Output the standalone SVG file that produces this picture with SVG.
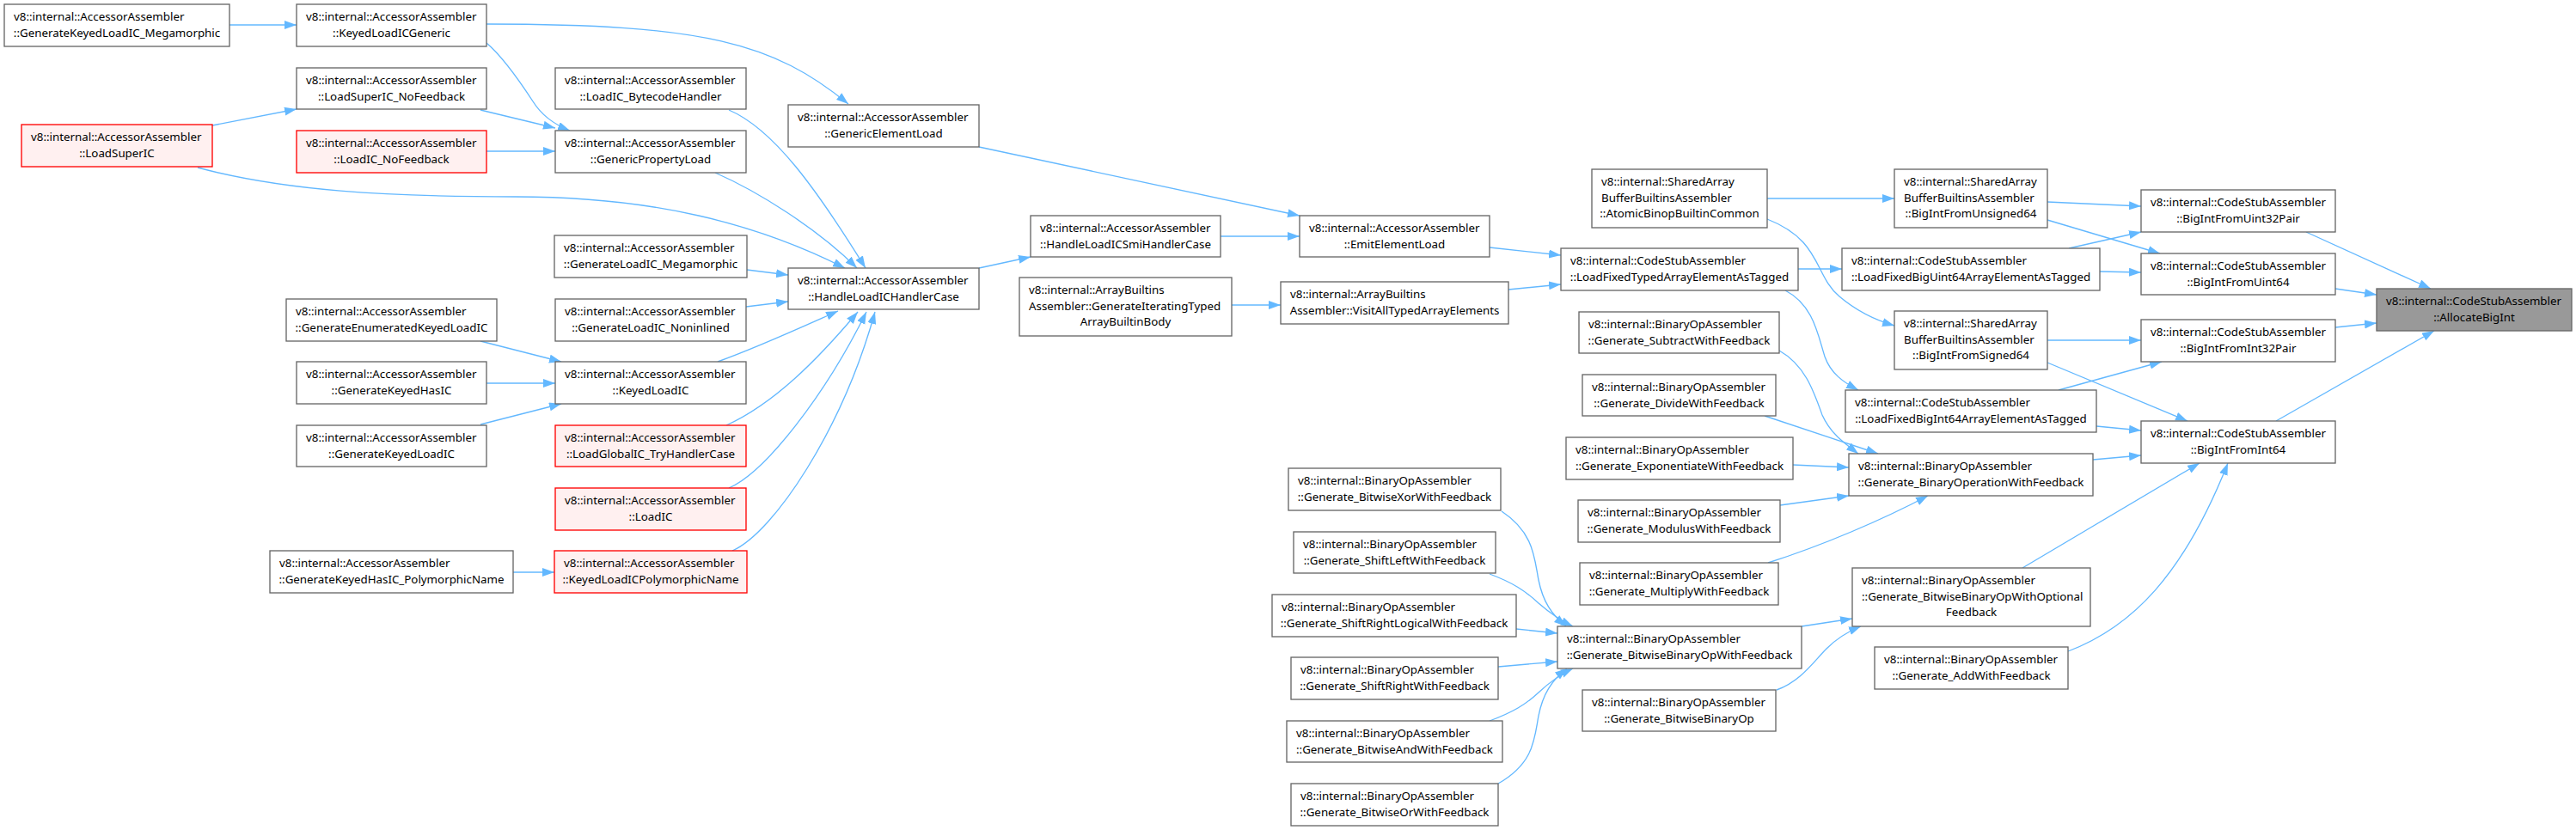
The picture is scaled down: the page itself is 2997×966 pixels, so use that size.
<svg xmlns="http://www.w3.org/2000/svg" width="2997" height="966" viewBox="0 0 2997 966">
<style>
.n rect{fill:#fff;stroke:#666;stroke-width:1.33}
.r rect{fill:#fff0f0;stroke:#ff0000;stroke-width:1.33}
.g rect{fill:#999;stroke:#666;stroke-width:1.33}
text{font-family:"Noto Sans","Open Sans",sans-serif;font-size:13.33px;fill:#000}
.m{text-anchor:middle}
#edges path{fill:none;stroke:#63b8ff;stroke-width:1.33;marker-end:url(#a)}
</style>
<defs>
<marker id="a" markerUnits="userSpaceOnUse" markerWidth="16" markerHeight="12" refX="14" refY="5" orient="auto"><path d="M0,0 L14,5 L0,10 z" fill="#63b8ff" stroke="none"/></marker>
</defs>
<rect width="2997" height="966" fill="#fff"/>
<g id="edges">
<path d="M267,29 L345,29"/>
<path d="M566,28 C 820,28 900,50 987,121"/>
<path d="M566,50 C 585,66 605,95 620,118 C 630,134 645,145 663,152"/>
<path d="M559,128 L646,149"/>
<path d="M566,176 L646,176"/>
<path d="M247,146 L345,127"/>
<path d="M230,195 C 330,222 450,229 600,229 C 760,229 880,260 983,312"/>
<path d="M832,201 C 880,222 950,265 997,312"/>
<path d="M848,128 C 900,150 950,220 1007,312"/>
<path d="M869,314 L917,320"/>
<path d="M868,357 L917,351"/>
<path d="M835,421 C 880,405 930,382 975,362"/>
<path d="M845,495 C 900,470 950,420 998,363"/>
<path d="M848,568 C 890,550 960,460 1008,363"/>
<path d="M852,641 C 900,620 980,500 1018,363"/>
<path d="M559,397 L653,421"/>
<path d="M566,446 L646,446"/>
<path d="M559,494 L653,470"/>
<path d="M597,666 L645,666"/>
<path d="M1139,171 L1512,251"/>
<path d="M1139,312 L1199,299"/>
<path d="M1420,275 L1512,275"/>
<path d="M1433,355 L1490,355"/>
<path d="M1733,288 L1816,297"/>
<path d="M1755,337 L1816,331"/>
<path d="M2056,231 L2204,231"/>
<path d="M2056,255 C 2120,280 2110,320 2140,345 C 2160,362 2180,372 2204,379"/>
<path d="M2092,313 L2143,313"/>
<path d="M2077,338 C 2110,355 2115,390 2123,415 C 2130,435 2145,445 2162,454"/>
<path d="M2070,408 C 2100,425 2110,455 2120,483 C 2130,505 2145,515 2162,528"/>
<path d="M2053,484 L2185,528"/>
<path d="M2086,541 L2151,544"/>
<path d="M2071,588 L2151,577"/>
<path d="M2057,655 C 2120,635 2190,605 2243,577"/>
<path d="M2096,729 L2155,720"/>
<path d="M2067,803 C 2095,793 2110,770 2125,755 C 2138,742 2150,735 2165,729"/>
<path d="M1747,595 C 1785,620 1785,650 1790,675 C 1795,700 1805,715 1822,729"/>
<path d="M1733,668 C 1760,678 1775,688 1790,702 C 1805,715 1815,722 1830,729"/>
<path d="M1764,732 L1812,737"/>
<path d="M1743,776 L1812,770"/>
<path d="M1733,839 C 1760,829 1775,820 1790,806 C 1805,792 1815,785 1830,778"/>
<path d="M1743,912 C 1785,888 1785,860 1790,833 C 1795,808 1805,792 1823,778"/>
<path d="M2382,235 L2491,240"/>
<path d="M2382,256 L2513,295"/>
<path d="M2407,289 L2491,270"/>
<path d="M2443,316 L2491,317"/>
<path d="M2382,396 L2491,396"/>
<path d="M2382,422 L2545,490"/>
<path d="M2395,454 L2515,421"/>
<path d="M2439,496 L2491,501"/>
<path d="M2435,535 L2491,530"/>
<path d="M2353,661 L2559,539"/>
<path d="M2406,758 C 2480,730 2540,670 2592,539"/>
<path d="M2683,270 L2828,336"/>
<path d="M2717,336 L2765,343"/>
<path d="M2717,381 L2765,376"/>
<path d="M2648,490 L2832,385"/>
</g>
<g id="n1" class="n"><rect x="5" y="5" width="262" height="49"/><text x="16" y="24">v8::internal::AccessorAssembler</text><text class="m" x="136" y="42.5">::GenerateKeyedLoadIC_Megamorphic</text></g>
<g id="n2" class="n"><rect x="345" y="5" width="221" height="49"/><text x="356" y="24">v8::internal::AccessorAssembler</text><text class="m" x="455.5" y="42.5">::KeyedLoadICGeneric</text></g>
<g id="n3" class="n"><rect x="345" y="79" width="221" height="48"/><text x="356" y="98">v8::internal::AccessorAssembler</text><text class="m" x="455.5" y="116.5">::LoadSuperIC_NoFeedback</text></g>
<g id="n4" class="r"><rect x="345" y="152" width="221" height="49"/><text x="356" y="171">v8::internal::AccessorAssembler</text><text class="m" x="455.5" y="189.5">::LoadIC_NoFeedback</text></g>
<g id="n5" class="r"><rect x="25" y="145" width="222" height="49"/><text x="36" y="164">v8::internal::AccessorAssembler</text><text class="m" x="136" y="182.5">::LoadSuperIC</text></g>
<g id="n6" class="n"><rect x="333" y="348" width="245" height="49"/><text x="344" y="367">v8::internal::AccessorAssembler</text><text class="m" x="455.5" y="385.5">::GenerateEnumeratedKeyedLoadIC</text></g>
<g id="n7" class="n"><rect x="345" y="421" width="221" height="49"/><text x="356" y="440">v8::internal::AccessorAssembler</text><text class="m" x="455.5" y="458.5">::GenerateKeyedHasIC</text></g>
<g id="n8" class="n"><rect x="345" y="495" width="221" height="48"/><text x="356" y="514">v8::internal::AccessorAssembler</text><text class="m" x="455.5" y="532.5">::GenerateKeyedLoadIC</text></g>
<g id="n9" class="n"><rect x="314" y="641" width="283" height="49"/><text x="325" y="660">v8::internal::AccessorAssembler</text><text class="m" x="455.5" y="678.5">::GenerateKeyedHasIC_PolymorphicName</text></g>
<g id="n10" class="n"><rect x="646" y="79" width="222" height="48"/><text x="657" y="98">v8::internal::AccessorAssembler</text><text class="m" x="757" y="116.5">::LoadIC_BytecodeHandler</text></g>
<g id="n11" class="n"><rect x="646" y="152" width="222" height="49"/><text x="657" y="171">v8::internal::AccessorAssembler</text><text class="m" x="757" y="189.5">::GenericPropertyLoad</text></g>
<g id="n12" class="n"><rect x="645" y="274" width="224" height="49"/><text x="656" y="293">v8::internal::AccessorAssembler</text><text class="m" x="757" y="311.5">::GenerateLoadIC_Megamorphic</text></g>
<g id="n13" class="n"><rect x="646" y="348" width="222" height="49"/><text x="657" y="367">v8::internal::AccessorAssembler</text><text class="m" x="757" y="385.5">::GenerateLoadIC_Noninlined</text></g>
<g id="n14" class="n"><rect x="646" y="421" width="222" height="49"/><text x="657" y="440">v8::internal::AccessorAssembler</text><text class="m" x="757" y="458.5">::KeyedLoadIC</text></g>
<g id="n15" class="r"><rect x="646" y="495" width="222" height="48"/><text x="657" y="514">v8::internal::AccessorAssembler</text><text class="m" x="757" y="532.5">::LoadGlobalIC_TryHandlerCase</text></g>
<g id="n16" class="r"><rect x="646" y="568" width="222" height="49"/><text x="657" y="587">v8::internal::AccessorAssembler</text><text class="m" x="757" y="605.5">::LoadIC</text></g>
<g id="n17" class="r"><rect x="645" y="641" width="224" height="49"/><text x="656" y="660">v8::internal::AccessorAssembler</text><text class="m" x="757" y="678.5">::KeyedLoadICPolymorphicName</text></g>
<g id="n18" class="n"><rect x="917" y="122" width="222" height="49"/><text x="928" y="141">v8::internal::AccessorAssembler</text><text class="m" x="1028" y="159.5">::GenericElementLoad</text></g>
<g id="n19" class="n"><rect x="917" y="312" width="222" height="48"/><text x="928" y="331">v8::internal::AccessorAssembler</text><text class="m" x="1028" y="349.5">::HandleLoadICHandlerCase</text></g>
<g id="n20" class="n"><rect x="1199" y="251" width="221" height="48"/><text x="1210" y="270">v8::internal::AccessorAssembler</text><text class="m" x="1309.5" y="288.5">::HandleLoadICSmiHandlerCase</text></g>
<g id="n21" class="n"><rect x="1186" y="323" width="247" height="68"/><text x="1197" y="342">v8::internal::ArrayBuiltins</text><text x="1197" y="360.5">Assembler::GenerateIteratingTyped</text><text class="m" x="1309.5" y="379">ArrayBuiltinBody</text></g>
<g id="n22" class="n"><rect x="1512" y="251" width="221" height="48"/><text x="1523" y="270">v8::internal::AccessorAssembler</text><text class="m" x="1622.5" y="288.5">::EmitElementLoad</text></g>
<g id="n23" class="n"><rect x="1490" y="328" width="265" height="49"/><text x="1501" y="347">v8::internal::ArrayBuiltins</text><text class="m" x="1622.5" y="365.5">Assembler::VisitAllTypedArrayElements</text></g>
<g id="n24" class="n"><rect x="1852" y="197" width="204" height="68"/><text x="1863" y="216">v8::internal::SharedArray</text><text x="1863" y="234.5">BufferBuiltinsAssembler</text><text class="m" x="1954" y="253">::AtomicBinopBuiltinCommon</text></g>
<g id="n25" class="n"><rect x="1816" y="289" width="276" height="49"/><text x="1827" y="308">v8::internal::CodeStubAssembler</text><text class="m" x="1954" y="326.5">::LoadFixedTypedArrayElementAsTagged</text></g>
<g id="n26" class="n"><rect x="1837" y="363" width="233" height="48"/><text x="1848" y="382">v8::internal::BinaryOpAssembler</text><text class="m" x="1953.5" y="400.5">::Generate_SubtractWithFeedback</text></g>
<g id="n27" class="n"><rect x="1841" y="436" width="225" height="48"/><text x="1852" y="455">v8::internal::BinaryOpAssembler</text><text class="m" x="1953.5" y="473.5">::Generate_DivideWithFeedback</text></g>
<g id="n28" class="n"><rect x="1822" y="509" width="264" height="49"/><text x="1833" y="528">v8::internal::BinaryOpAssembler</text><text class="m" x="1954" y="546.5">::Generate_ExponentiateWithFeedback</text></g>
<g id="n29" class="n"><rect x="1836" y="582" width="235" height="49"/><text x="1847" y="601">v8::internal::BinaryOpAssembler</text><text class="m" x="1953.5" y="619.5">::Generate_ModulusWithFeedback</text></g>
<g id="n30" class="n"><rect x="1838" y="655" width="231" height="49"/><text x="1849" y="674">v8::internal::BinaryOpAssembler</text><text class="m" x="1953.5" y="692.5">::Generate_MultiplyWithFeedback</text></g>
<g id="n31" class="n"><rect x="1812" y="729" width="284" height="49"/><text x="1823" y="748">v8::internal::BinaryOpAssembler</text><text class="m" x="1954" y="766.5">::Generate_BitwiseBinaryOpWithFeedback</text></g>
<g id="n32" class="n"><rect x="1841" y="803" width="225" height="48"/><text x="1852" y="822">v8::internal::BinaryOpAssembler</text><text class="m" x="1953.5" y="840.5">::Generate_BitwiseBinaryOp</text></g>
<g id="n33" class="n"><rect x="1499" y="545" width="247" height="49"/><text x="1510" y="564">v8::internal::BinaryOpAssembler</text><text class="m" x="1622.5" y="582.5">::Generate_BitwiseXorWithFeedback</text></g>
<g id="n34" class="n"><rect x="1505" y="619" width="235" height="48"/><text x="1516" y="638">v8::internal::BinaryOpAssembler</text><text class="m" x="1622.5" y="656.5">::Generate_ShiftLeftWithFeedback</text></g>
<g id="n35" class="n"><rect x="1480" y="692" width="284" height="49"/><text x="1491" y="711">v8::internal::BinaryOpAssembler</text><text class="m" x="1622" y="729.5">::Generate_ShiftRightLogicalWithFeedback</text></g>
<g id="n36" class="n"><rect x="1502" y="765" width="241" height="49"/><text x="1513" y="784">v8::internal::BinaryOpAssembler</text><text class="m" x="1622.5" y="802.5">::Generate_ShiftRightWithFeedback</text></g>
<g id="n37" class="n"><rect x="1497" y="839" width="251" height="48"/><text x="1508" y="858">v8::internal::BinaryOpAssembler</text><text class="m" x="1622.5" y="876.5">::Generate_BitwiseAndWithFeedback</text></g>
<g id="n38" class="n"><rect x="1502" y="912" width="241" height="49"/><text x="1513" y="931">v8::internal::BinaryOpAssembler</text><text class="m" x="1622.5" y="949.5">::Generate_BitwiseOrWithFeedback</text></g>
<g id="n39" class="n"><rect x="2204" y="197" width="178" height="68"/><text x="2215" y="216">v8::internal::SharedArray</text><text x="2215" y="234.5">BufferBuiltinsAssembler</text><text class="m" x="2293" y="253">::BigIntFromUnsigned64</text></g>
<g id="n40" class="n"><rect x="2143" y="289" width="300" height="49"/><text x="2154" y="308">v8::internal::CodeStubAssembler</text><text class="m" x="2293" y="326.5">::LoadFixedBigUint64ArrayElementAsTagged</text></g>
<g id="n41" class="n"><rect x="2204" y="362" width="178" height="68"/><text x="2215" y="381">v8::internal::SharedArray</text><text x="2215" y="399.5">BufferBuiltinsAssembler</text><text class="m" x="2293" y="418">::BigIntFromSigned64</text></g>
<g id="n42" class="n"><rect x="2147" y="454" width="292" height="49"/><text x="2158" y="473">v8::internal::CodeStubAssembler</text><text class="m" x="2293" y="491.5">::LoadFixedBigInt64ArrayElementAsTagged</text></g>
<g id="n43" class="n"><rect x="2491" y="221" width="226" height="49"/><text x="2502" y="240">v8::internal::CodeStubAssembler</text><text class="m" x="2604" y="258.5">::BigIntFromUint32Pair</text></g>
<g id="n44" class="n"><rect x="2491" y="295" width="226" height="48"/><text x="2502" y="314">v8::internal::CodeStubAssembler</text><text class="m" x="2604" y="332.5">::BigIntFromUint64</text></g>
<g id="n45" class="n"><rect x="2491" y="372" width="226" height="49"/><text x="2502" y="391">v8::internal::CodeStubAssembler</text><text class="m" x="2604" y="409.5">::BigIntFromInt32Pair</text></g>
<g id="n46" class="n"><rect x="2491" y="490" width="226" height="49"/><text x="2502" y="509">v8::internal::CodeStubAssembler</text><text class="m" x="2604" y="527.5">::BigIntFromInt64</text></g>
<g id="n47" class="n"><rect x="2151" y="528" width="284" height="49"/><text x="2162" y="547">v8::internal::BinaryOpAssembler</text><text class="m" x="2293" y="565.5">::Generate_BinaryOperationWithFeedback</text></g>
<g id="n48" class="n"><rect x="2155" y="661" width="277" height="68"/><text x="2166" y="680">v8::internal::BinaryOpAssembler</text><text x="2166" y="698.5">::Generate_BitwiseBinaryOpWithOptional</text><text class="m" x="2293.5" y="717">Feedback</text></g>
<g id="n49" class="n"><rect x="2181" y="753" width="225" height="49"/><text x="2192" y="772">v8::internal::BinaryOpAssembler</text><text class="m" x="2293.5" y="790.5">::Generate_AddWithFeedback</text></g>
<g id="n50" class="g"><rect x="2765" y="336" width="227" height="49"/><text x="2776" y="355">v8::internal::CodeStubAssembler</text><text class="m" x="2878.5" y="373.5">::AllocateBigInt</text></g>
</svg>
